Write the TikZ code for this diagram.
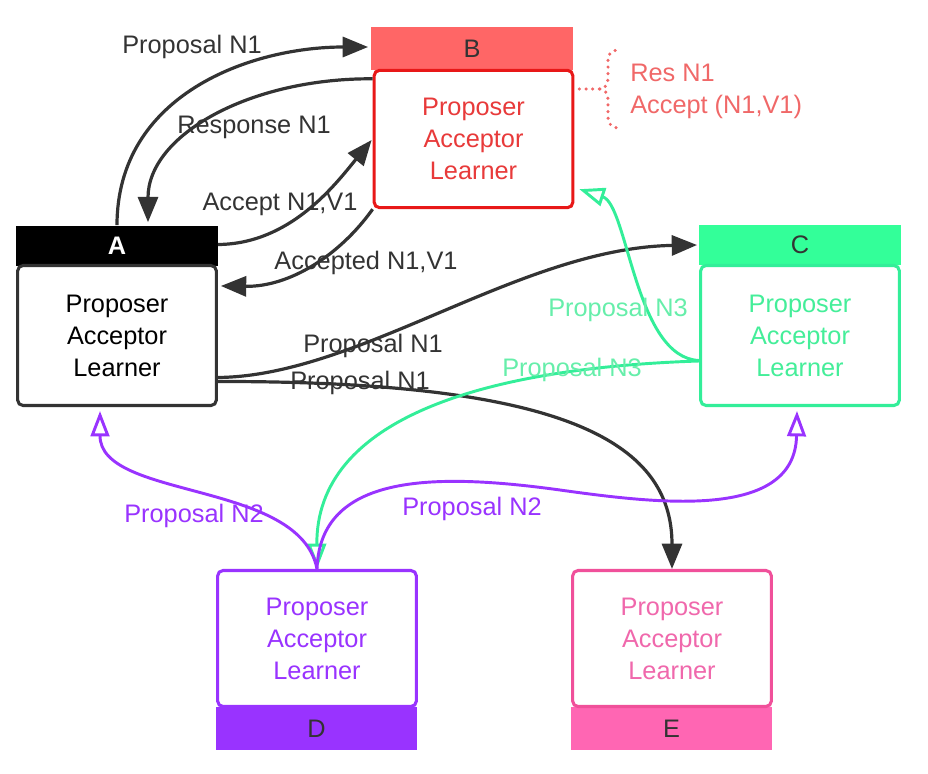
\documentclass[tikz,border=0pt]{standalone}
\usepackage{fontspec}
\setmainfont{Liberation Sans}
\usetikzlibrary{arrows.meta,calc}
\definecolor{dk}{HTML}{333333}
\definecolor{bhead}{HTML}{FF6666}
\definecolor{bline}{HTML}{E81818}
\definecolor{btext}{HTML}{E83A3A}
\definecolor{chead}{HTML}{33FF99}
\definecolor{cline}{HTML}{33EE99}
\definecolor{ctext}{HTML}{44EE99}
\definecolor{clab}{HTML}{66EEAA}
\definecolor{dcol}{HTML}{9933FF}
\definecolor{ehead}{HTML}{FF66B3}
\definecolor{eline}{HTML}{F0509A}
\definecolor{etext}{HTML}{F068AC}
\definecolor{note}{HTML}{F06868}
\tikzset{
  txt/.style={font=\fontsize{19}{24}\selectfont},
  hdr/.style={txt, minimum width=151pt, minimum height=30pt, inner sep=0pt},
  bodybox/.style={txt, draw, line width=2.3pt, rounded corners=4pt, fill=white,
    minimum width=149pt, minimum height=104pt, align=center, inner sep=0pt},
  lbl/.style={txt, inner sep=0pt},
  darrow/.style={draw=dk, line width=2.4pt, -{Triangle[length=19pt,width=15pt]}},
  oarrow/.style={line width=2.2pt, -{Triangle[open,length=19pt,width=14pt,fill=white]}}
}
\begin{document}
\begin{tikzpicture}[x=0.75pt,y=-0.75pt]
\useasboundingbox (0,0) rectangle (928,774);
% A
\node[hdr, fill=black, text=white, font=\fontsize{19}{24}\selectfont\bfseries] (Ah) at (117,245.5) {A};
\node[bodybox, draw=dk, text=black, minimum height=105pt] (Ab) at (117,335.5) {Proposer\\Acceptor\\Learner};
% B
\node[hdr, fill=bhead, text=dk, minimum height=32pt] (Bh) at (472,48.5) {B};
\node[bodybox, draw=bline, text=btext, minimum height=103pt] (Bb) at (473.5,139) {Proposer\\Acceptor\\Learner};
% C
\node[hdr, fill=chead, text=dk] (Ch) at (800,245) {C};
\node[bodybox, draw=cline, text=ctext, minimum height=105pt] (Cb) at (800,335.5) {Proposer\\Acceptor\\Learner};
% D
\node[hdr, fill=dcol, text=dk, minimum height=32pt] (Dh) at (316.5,728.5) {D};
\node[bodybox, draw=dcol, text=dcol, minimum height=102pt] (Db) at (317,638.5) {Proposer\\Acceptor\\Learner};
% E
\node[hdr, fill=ehead, text=dk, minimum height=32pt] (Eh) at (671.5,728.5) {E};
\node[bodybox, draw=eline, text=etext, minimum height=102pt] (Eb) at (672,638.5) {Proposer\\Acceptor\\Learner};

% dark connectors
\draw[darrow] (Ah.north) .. controls (117,95) and (250,47) .. ($(Bh.west)+(-3,-1.5)$);
\draw[darrow] ($(Bb.north west)+(0,10)$) .. controls (250,78) and (148,135) .. ($(Ah.north)+(31,-3)$);
\draw[darrow] ($(Ah.east)+(0,-1)$) .. controls (290,244) and (335,185) .. ($(Bb.west)+(-1,1)$);
\draw[darrow] (Bb.south west) .. controls (340,255) and (290,287) .. ($(Ab.north east)+(3,22)$);
\draw[darrow] ($(Ab.east)+(0,42)$) .. controls (360,376) and (520,248) .. ($(Ch.west)+(-2,0)$);
\draw[darrow] ($(Ab.east)+(0,46)$) .. controls (560,381) and (672,440) .. (Eb.north);

% green connectors
\draw[oarrow, draw=cline] ($(Cb.west)+(0,25)$) .. controls (635,358) and (628,205) .. ($(Bb.south east)+(5,-20)$);
\draw[oarrow, draw=cline] ($(Cb.west)+(0,25.5)$) .. controls (480,368) and (316,420) .. (Db.north);

% purple connectors
\draw[oarrow, draw=dcol] (Db.north) .. controls (300,480) and (100,500) .. ($(Ab.south)+(-17,4)$);
\draw[oarrow, draw=dcol] (Db.north) .. controls (320,475) and (430,472) .. (560,490)
  .. controls (660,504) and (795,520) .. ($(Cb.south)+(-3,4)$);

% labels
\node[lbl, text=dk] (l1) at (192,47) {Proposal N1};
\node[lbl, text=dk] (l2) at (254,127) {Response N1};
\node[lbl, text=dk] (l3) at (280,204) {Accept N1,V1};
\node[lbl, text=dk] (l4) at (366,263) {Accepted N1,V1};
\node[lbl, text=dk] (l5) at (373,346) {Proposal N1};
\node[lbl, text=dk] (l6) at (360,383) {Proposal N1};
\node[lbl, text=clab] (l7) at (618,310) {Proposal N3};
\node[lbl, text=clab] (l8) at (572,370) {Proposal N3};
\node[lbl, text=dcol] (l9) at (194,516) {Proposal N2};
\node[lbl, text=dcol] (l10) at (472,509) {Proposal N2};

% note brace
\coordinate (bm) at (600,89);
\draw[note, line width=2.6pt, line cap=round, dash pattern=on 0pt off 5pt]
  ($(Bb.east)+(5,-50)$) -- (bm) .. controls (606,88) and (608,84) .. (608,78) -- (608,60)
  .. controls (608,53) and (612,50) .. (620,50);
\draw[note, line width=2.6pt, line cap=round, dash pattern=on 0pt off 5pt]
  (bm) .. controls (606,90) and (608,94) .. (608,100) -- (608,118)
  .. controls (608,124) and (612,128) .. (620,128);
\node[lbl, text=note, anchor=west, align=left] (nt) at (630,91) {Res N1\\Accept (N1,V1)};
\end{tikzpicture}
\end{document}
